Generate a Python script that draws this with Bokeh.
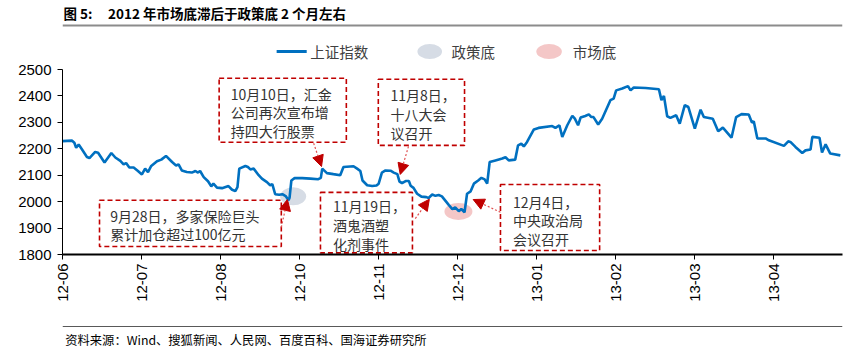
from bokeh.plotting import figure
from bokeh.models import Range1d, FixedTicker, Arrow, NormalHead
from bokeh.layouts import column
from bokeh.embed import file_html
from bokeh.resources import INLINE
from bokeh.core.properties import value

# ---------------- data ----------------
# trading-day index (since 2012-06 start) and Shanghai Composite close
day = [
    0.0, 2.6, 3.3, 3.8, 4.5, 5.4, 6.8, 7.5, 9.1, 9.9,
    11.7, 13.6, 14.7, 16.1, 17.0, 17.7, 18.6, 19.8, 21.0, 22.1,
    23.0, 23.8, 24.7, 26.3, 27.5, 28.8, 30.5, 31.6, 32.3, 33.2,
    34.6, 36.0, 37.0, 37.7, 38.3, 39.3, 40.5, 41.4, 42.0, 43.0,
    44.4, 46.2, 47.2, 48.1, 48.7, 49.2, 50.9, 51.6, 52.3, 53.2,
    54.6, 55.5, 56.9, 57.8, 58.4, 59.2, 60.3, 61.2, 62.1, 62.9,
    63.2, 63.7, 64.6, 66.7, 69.0, 71.2, 71.9, 72.3, 73.6, 75.4,
    77.3, 78.2, 81.0, 82.0, 82.9, 83.5, 84.8, 86.2, 87.4, 88.0,
    88.9, 89.9, 91.3, 92.2, 93.2, 93.8, 94.5, 95.5, 96.4, 96.9,
    97.7, 98.7, 99.9, 101.3, 101.9, 102.9, 103.8, 104.7, 105.6, 107.5,
    108.5, 109.3, 110.3, 111.0, 111.9, 112.6, 113.6, 114.5, 115.7, 116.6,
    117.5, 118.2, 118.9, 120.5, 122.4, 123.3, 124.2, 126.0, 126.8, 127.7,
    128.4, 129.3, 131.2, 132.5, 136.3, 137.2, 138.3, 139.1, 140.5, 141.9,
    142.6, 143.5, 144.2, 145.5, 146.5, 147.2, 147.8, 149.1, 150.2, 152.5,
    153.4, 154.1, 155.8, 157.4, 158.1, 159.0, 162.3, 166.0, 166.7, 167.4,
    168.3, 169.2, 170.8, 171.8, 173.2, 174.2, 176.0, 177.6, 178.5, 181.0,
    182.5, 183.8, 186.2, 187.5, 189.0, 191.0, 191.9, 192.4, 193.4, 195.7,
    196.6, 200.8, 202.0, 202.6, 204.0, 205.9, 206.8, 208.2, 208.7, 210.7,
    211.4, 212.4, 213.7, 216.5,
]
sh_index = [
    2229, 2231, 2223, 2204, 2216, 2198, 2169, 2165, 2188, 2185,
    2148, 2184, 2167, 2154, 2141, 2146, 2129, 2129, 2116, 2103,
    2125, 2112, 2135, 2153, 2159, 2173, 2150, 2137, 2141, 2118,
    2112, 2110, 2116, 2110, 2116, 2093, 2077, 2058, 2068, 2053,
    2051, 2059, 2045, 2040, 2055, 2125, 2135, 2131, 2122, 2125,
    2100, 2087, 2074, 2062, 2066, 2028, 2026, 2028, 2021, 2005,
    2015, 2080, 2089, 2089, 2087, 2085, 2090, 2125, 2108, 2104,
    2100, 2131, 2134, 2125, 2116, 2080, 2062, 2059, 2061, 2068,
    2110, 2118, 2117, 2110, 2104, 2076, 2070, 2078, 2078, 2060,
    2052, 2030, 2019, 2017, 2014, 2027, 2022, 2025, 2020, 1988,
    1972, 1978, 1964, 1972, 1960, 2030, 2039, 2068, 2080, 2090,
    2084, 2068, 2150, 2156, 2163, 2168, 2156, 2159, 2213, 2219,
    2209, 2226, 2273, 2279, 2286, 2279, 2289, 2245, 2289, 2325,
    2314, 2289, 2318, 2324, 2330, 2320, 2320, 2292, 2314, 2384,
    2390, 2421, 2428, 2437, 2421, 2432, 2430, 2425, 2384, 2400,
    2323, 2317, 2327, 2295, 2365, 2358, 2276, 2348, 2320, 2314,
    2266, 2280, 2242, 2320, 2331, 2330, 2299, 2304, 2239, 2239,
    2232, 2211, 2228, 2226, 2207, 2184, 2194, 2197, 2245, 2242,
    2186, 2217, 2182, 2175,
]

tick_days = [0, 22, 44, 66, 88, 110, 132, 154, 176, 198]
tick_labels = ["12-06", "12-07", "12-08", "12-10", "12-11",
               "12-12", "13-01", "13-02", "13-03", "13-04"]
y_ticks = [1800, 1900, 2000, 2100, 2200, 2300, 2400, 2500]

policy_day, policy_val = [64.2], [2020]
market_day, market_val = [110.2], [1963]

legend_labels = ["上证指数", "政策底", "市场底"]

# annotation boxes (data coordinates)
box_left = [43.6, 87.9, 10.3, 71.8, 121.9]
box_right = [79.0, 111.9, 60.9, 97.4, 149.5]
box_top = [2467, 2463, 2005, 2035, 2065]
box_bottom = [2225, 2213, 1830, 1806, 1815]

ann_text = ["10月10日，汇金", "公司再次宣布增", "持四大行股票",
            "11月8日，", "十八大会", "议召开",
            "9月28日，多家保险巨头", "累计加仓超过100亿元",
            "11月19日，", "酒鬼酒塑", "化剂事件",
            "12月4日，", "中央政治局", "会议召开"]
ann_x = [46.8] * 3 + [91.3] * 3 + [13.3] * 2 + [75.3] * 3 + [125.4] * 3
ann_y = [2409, 2339, 2267, 2403, 2331, 2258, 1944, 1876,
         1983, 1910, 1838, 1998, 1929, 1857]

arrow_x0 = [69.9, 96.3, 60.9, 98.2, 121.9]
arrow_y0 = [2221, 2209, 1903, 1936, 1960]
arrow_x1 = [72.1, 94.0, 62.6, 102.1, 114.3]
arrow_y1 = [2133, 2103, 2008, 2009, 2008]

BLUE = "#0070C0"
RED = "#C00000"
GREY_BLUE = "#D6DCE5"
PINK = "#F4C7C7"
CJK = "Noto Sans CJK SC"
LAT = "Liberation Sans"
W = 856

# ---------------- header: title, rule, legend ----------------
top = figure(width=W, height=61, x_range=Range1d(0, W), y_range=Range1d(61, 0),
             x_axis_type=None, y_axis_type=None, output_backend="svg",
             toolbar_location=None, min_border=0)
top.outline_line_color = None
top.text(x=[1], y=[12], text=["图 5:"], text_font=value(CJK), text_font_size="13.5px",
         text_font_style=value("bold"), text_baseline=value("middle"), text_color="#000000")
top.text(x=[50], y=[12], text=["2012 年市场底滞后于政策底 2 个月左右"], text_font=value(CJK),
         text_font_size="13.5px", text_font_style=value("bold"),
         text_baseline=value("middle"), text_color="#000000")
top.segment(x0=[0], y0=[25], x1=[W], y1=[25], line_color="#8c8c8c", line_width=2)

# legend (key marks + labels)
top.segment(x0=[235], y0=[51], x1=[268], y1=[51], line_color=BLUE, line_width=3)
top.ellipse(x=[403, 534], y=[51, 51], width=[27, 28], height=[15, 15],
            fill_color=[GREY_BLUE, PINK], line_color=None)
top.text(x=[272, 427, 560], y=[51, 51, 51], text=legend_labels, text_font=value(CJK),
         text_font_size="14.5px", text_baseline=value("middle"), text_color="#404040")

# ---------------- main chart ----------------
p = figure(width=W, height=261, x_range=Range1d(0, 217.1), y_range=Range1d(1800, 2500),
           output_backend="svg", toolbar_location=None,
           min_border_left=62, min_border_right=14, min_border_top=8, min_border_bottom=68)
p.outline_line_color = None
p.xgrid.visible = False
p.ygrid.visible = False
p.background_fill_color = "white"

p.ellipse(x=policy_day, y=policy_val, width=26, height=18, width_units="screen",
          height_units="screen", fill_color=GREY_BLUE, line_color=None)
p.ellipse(x=market_day, y=market_val, width=28, height=17, width_units="screen",
          height_units="screen", fill_color=PINK, line_color=None)
p.line(day, sh_index, line_color=BLUE, line_width=2.6)

p.quad(left=box_left, right=box_right, top=box_top, bottom=box_bottom,
       fill_color=None, line_color=RED, line_width=1.6, line_dash="5 3")
p.text(x=ann_x, y=ann_y, text=ann_text, text_font=value(CJK), text_font_size="14px",
       text_baseline=value("middle"), text_align=value("left"), text_color="#333333")

for x0, y0, x1, y1 in zip(arrow_x0, arrow_y0, arrow_x1, arrow_y1):
    p.add_layout(Arrow(end=NormalHead(size=11, fill_color=RED, line_color=RED, line_width=1),
                       x_start=x0, y_start=y0, x_end=x1, y_end=y1,
                       line_color="#E05050", line_width=1.2, line_dash="2 2"))

p.xaxis.ticker = FixedTicker(ticks=tick_days)
p.xaxis.major_label_overrides = {d: l for d, l in zip(tick_days, tick_labels)}
p.xaxis.major_label_orientation = 1.5708
p.xaxis.axis_line_width = 2
p.xaxis.axis_line_color = "#000000"
p.xaxis.major_tick_line_color = "#000000"
p.xaxis.major_tick_in = 0
p.xaxis.major_tick_out = 5
p.xaxis.minor_tick_line_color = None
p.xaxis.major_label_standoff = 4
p.xaxis.major_label_text_font = LAT
p.xaxis.major_label_text_font_size = "15px"
p.xaxis.major_label_text_color = "#000000"

p.yaxis.ticker = FixedTicker(ticks=y_ticks)
p.yaxis.axis_line_color = "#000000"
p.yaxis.major_tick_line_color = "#000000"
p.yaxis.major_tick_in = 0
p.yaxis.major_tick_out = 5
p.yaxis.minor_tick_line_color = None
p.yaxis.major_label_standoff = 6
p.yaxis.major_label_text_font = LAT
p.yaxis.major_label_text_font_size = "15px"
p.yaxis.major_label_text_color = "#000000"

# ---------------- footer ----------------
bot = figure(width=W, height=36, x_range=Range1d(0, W), y_range=Range1d(36, 0),
             x_axis_type=None, y_axis_type=None, output_backend="svg",
             toolbar_location=None, min_border=0)
bot.outline_line_color = None
bot.segment(x0=[0], y0=[4], x1=[W], y1=[4], line_color="#595959", line_width=1)
bot.text(x=[3], y=[17], text=["资料来源：Wind、搜狐新闻、人民网、百度百科、国海证券研究所"],
         text_font=value(CJK), text_font_size="12.3px", text_baseline=value("middle"),
         text_color="#000000")

layout = column(top, p, bot)
open("out.html", "w").write(file_html(layout, INLINE))
